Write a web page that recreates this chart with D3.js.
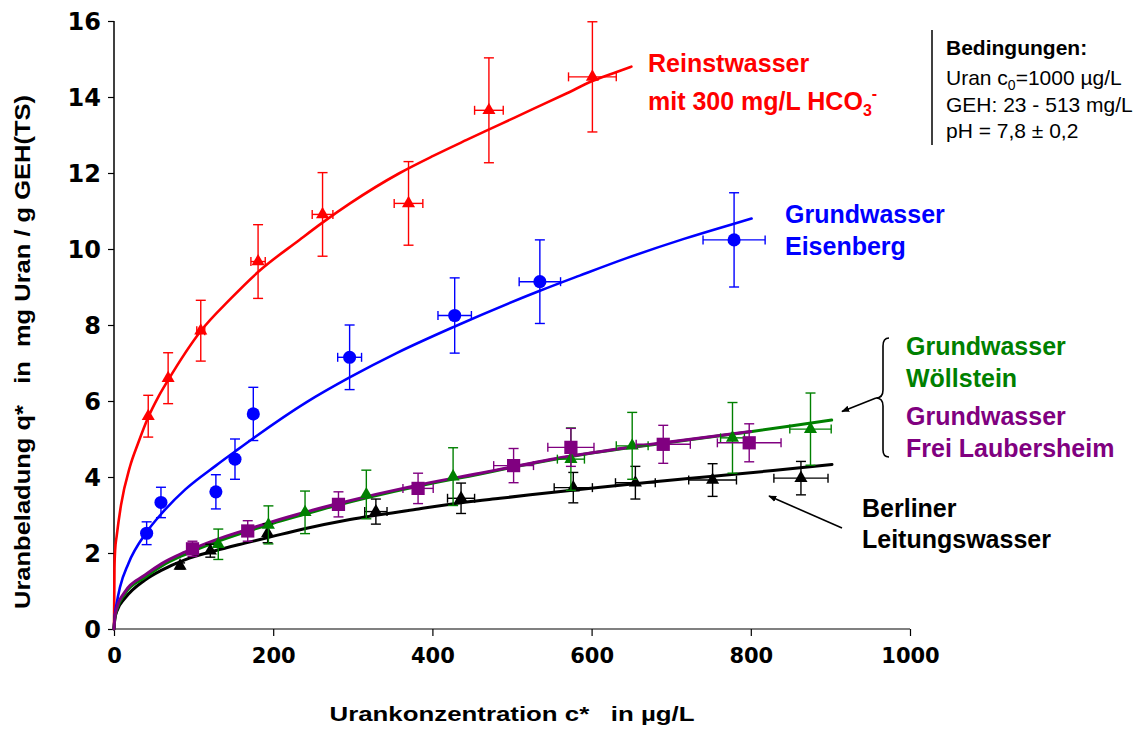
<!DOCTYPE html>
<html>
<head>
<meta charset="utf-8">
<script src="https://cdn.jsdelivr.net/npm/d3@7/dist/d3.min.js"></script>
<style>
  html, body { margin: 0; padding: 0; background: #fff; }
  svg { display: block; }
  text { white-space: pre; }
</style>
</head>
<body>
<svg id="chart" width="1139" height="729"></svg>
<script>
// Axis ticks
const xTicks = [0, 200, 400, 600, 800, 1000];
const yTicks = [0, 2, 4, 6, 8, 10, 12, 14, 16];

// Reinstwasser mit 300 mg/L HCO3- : measurements (x, y, error in y, error in x)
const reinX    = [43, 68, 109, 181, 262, 370, 471, 601];
const reinY    = [5.6, 6.6, 7.85, 9.67, 10.91, 11.2, 13.65, 14.53];
const reinYErr = [0.55, 0.67, 0.8, 0.97, 1.1, 1.1, 1.38, 1.45];
const reinXErr = [0, 0, 5, 9, 13, 18, 18, 30];
// Reinstwasser: isotherm fit
const reinFitX = [0, 0.6, 1.5, 3.4, 8.8, 20, 30.5, 42.3, 55.7, 68, 109.3, 146, 181.3, 233.7, 261, 296.5, 359, 401, 443, 485, 526, 569, 601, 631.5, 650];
const reinFitY = [0, 1.6, 2.1, 2.45, 3.26, 4.27, 4.9, 5.54, 6.11, 6.55, 7.85, 8.68, 9.4, 10.25, 10.68, 11.2, 12.0, 12.45, 12.87, 13.28, 13.68, 14.1, 14.42, 14.66, 14.8];

// Grundwasser Eisenberg
const eisX    = [41, 59, 128, 152, 175, 296, 428, 535, 779];
const eisY    = [2.52, 3.33, 3.61, 4.47, 5.66, 7.15, 8.25, 9.14, 10.24];
const eisYErr = [0.3, 0.4, 0.45, 0.53, 0.7, 0.85, 0.99, 1.1, 1.24];
const eisXErr = [0, 0, 0, 5, 5, 15, 21, 26, 39];
const eisFitX = [0, 1, 3.4, 7.5, 18, 41, 59, 90, 128, 152, 175, 242, 296, 355, 428, 535, 585, 644, 715, 778, 801];
const eisFitY = [0, 0.35, 0.68, 1.1, 1.72, 2.55, 3.02, 3.68, 4.3, 4.67, 5.02, 5.97, 6.62, 7.26, 7.96, 8.9, 9.3, 9.76, 10.26, 10.66, 10.8];

// Grundwasser Wöllstein
const woelX    = [131, 194, 240, 317, 426, 574, 651, 777, 875];
const woelY    = [2.23, 2.74, 3.07, 3.54, 4.01, 4.47, 4.82, 5.03, 5.26];
const woelYErr = [0.4, 0.5, 0.56, 0.64, 0.76, 0.82, 0.88, 0.93, 0.95];
const woelXErr = [0, 0, 0, 0, 0, 17, 20, 15, 26];
const woelFitX = [0, 1, 3.4, 13.8, 39, 60, 89, 127, 164.6, 198, 237.8, 275.5, 380, 460, 501.7, 573.7, 690, 795, 850, 901.6];
const woelFitY = [0, 0.27, 0.5, 0.93, 1.36, 1.66, 1.96, 2.28, 2.55, 2.77, 3.01, 3.23, 3.75, 4.08, 4.26, 4.54, 4.89, 5.18, 5.34, 5.5];

// Grundwasser Frei Laubersheim
const freiX    = [98.6, 168, 282, 382, 502, 574, 690, 798];
const freiY    = [2.11, 2.58, 3.28, 3.7, 4.3, 4.78, 4.86, 4.9];
const freiYErr = [0.2, 0.27, 0.33, 0.4, 0.45, 0.5, 0.5, 0.5];
const freiXErr = [0, 0, 0, 19, 25, 29, 34, 40];
const freiFitX = [0, 1, 3.4, 13.8, 39, 60, 89, 127, 164.6, 198, 237.8, 275.5, 380, 460, 501.7, 573.7, 690, 800];
const freiFitY = [0, 0.3, 0.54, 0.98, 1.42, 1.72, 2.02, 2.34, 2.6, 2.82, 3.06, 3.27, 3.78, 4.1, 4.27, 4.55, 4.9, 5.2];

// Berliner Leitungswasser
const berlX    = [83, 121, 193, 329, 436, 577, 655, 752, 863];
const berlY    = [1.66, 2.06, 2.52, 3.09, 3.44, 3.72, 3.85, 3.92, 3.97];
const berlYErr = [0.08, 0.17, 0.25, 0.33, 0.4, 0.4, 0.43, 0.43, 0.44];
const berlXErr = [0, 0, 0, 14, 17, 24, 25, 30, 34];
const berlFitX = [0, 1, 3.4, 13.8, 39, 60, 89, 127, 164.6, 198, 237.8, 296.5, 380, 443, 485, 523, 611, 682, 753, 828, 902];
const berlFitY = [0, 0.26, 0.46, 0.81, 1.29, 1.55, 1.82, 2.06, 2.26, 2.43, 2.63, 2.88, 3.15, 3.34, 3.44, 3.53, 3.73, 3.88, 4.02, 4.17, 4.33];

const svg = d3.select("#chart");
const x = d3.scaleLinear().domain([0, 1000]).range([114, 910]);
const y = d3.scaleLinear().domain([0, 16]).range([629, 21]);

const series = [
  { color: "#ff0000", sym: d3.symbolTriangle, size: 74, xs: reinX, ys: reinY, ey: reinYErr, ex: reinXErr, fx: reinFitX, fy: reinFitY, lw: 2.6 },
  { color: "#0000ff", sym: d3.symbolCircle,   size: 135, xs: eisX, ys: eisY, ey: eisYErr, ex: eisXErr, fx: eisFitX, fy: eisFitY, lw: 2.6 },
  { color: "#000000", sym: d3.symbolTriangle, size: 74, xs: berlX, ys: berlY, ey: berlYErr, ex: berlXErr, fx: berlFitX, fy: berlFitY, lw: 3 },
  { color: "#008000", sym: d3.symbolTriangle, size: 74, xs: woelX, ys: woelY, ey: woelYErr, ex: woelXErr, fx: woelFitX, fy: woelFitY, lw: 3 },
  { color: "#800080", sym: d3.symbolSquare,   size: 175, xs: freiX, ys: freiY, ey: freiYErr, ex: freiXErr, fx: freiFitX, fy: freiFitY, lw: 3 }
];

// Axes
const yAxis = d3.axisLeft(y).tickValues(yTicks).tickSize(6).tickFormat(d3.format("d"));
const gy = svg.append("g").attr("transform", "translate(114,0)").call(yAxis);
gy.select(".domain").attr("stroke", "#000").attr("stroke-width", 1.5).attr("d", "M0,21V629");
gy.selectAll(".tick line").attr("stroke", "#000").attr("stroke-width", 1.2);
gy.selectAll(".tick text")
  .attr("x", -13).attr("dy", "0.36em")
  .attr("font-family", "DejaVu Sans").attr("font-weight", "bold").attr("font-size", 24).attr("fill", "#000");

const xAxis = d3.axisBottom(x).tickValues(xTicks).tickSize(7).tickFormat(d3.format("d"));
const gx = svg.append("g").attr("transform", "translate(0,629)").call(xAxis);
gx.select(".domain").attr("stroke", "#808080").attr("stroke-width", 2).attr("d", "M114,0H910");
gx.selectAll(".tick line").attr("stroke", "#000").attr("stroke-width", 1.2);
gx.selectAll(".tick text")
  .attr("y", 34).attr("dy", "0")
  .attr("font-family", "DejaVu Sans").attr("font-weight", "bold").attr("font-size", 21).attr("fill", "#000");

// Axis titles
const font = "Liberation Sans, Arial, sans-serif";
svg.append("text")
  .attr("x", 512).attr("y", 721)
  .attr("text-anchor", "middle")
  .attr("font-family", font).attr("font-weight", "bold").attr("font-size", 21)
  .attr("textLength", 365).attr("lengthAdjust", "spacingAndGlyphs")
  .text("Urankonzentration c*   in µg/L");

svg.append("text")
  .attr("transform", "translate(30,352) rotate(-90)")
  .attr("text-anchor", "middle")
  .attr("font-family", font).attr("font-weight", "bold").attr("font-size", 22)
  .attr("textLength", 514).attr("lengthAdjust", "spacingAndGlyphs")
  .text("Uranbeladung q*   in  mg Uran / g GEH(TS)");

// Fit curves
const line = d3.line().x(d => x(d[0])).y(d => y(d[1])).curve(d3.curveMonotoneX);
const curves = svg.append("g");
series.forEach(s => {
  curves.append("path")
    .datum(s.fx.map((v, i) => [v, s.fy[i]]))
    .attr("d", line)
    .attr("fill", "none")
    .attr("stroke", s.color)
    .attr("stroke-width", s.lw)
    .attr("stroke-linejoin", "round")
    .attr("stroke-linecap", "round");
});

// Error bars and markers
series.forEach(s => {
  const pts = s.xs.map((v, i) => ({ x: v, y: s.ys[i], ey: s.ey[i], ex: s.ex[i] }));
  const g = svg.append("g").attr("stroke", s.color).attr("stroke-width", 1.4).attr("fill", "none");
  const capV = 5, capH = 4.5;
  pts.forEach(p => {
    const px = x(p.x), py = y(p.y);
    if (p.ey > 0) {
      const y1 = y(p.y + p.ey), y2 = y(p.y - p.ey);
      g.append("line").attr("x1", px).attr("x2", px).attr("y1", y1).attr("y2", y2);
      g.append("line").attr("x1", px - capV).attr("x2", px + capV).attr("y1", y1).attr("y2", y1);
      g.append("line").attr("x1", px - capV).attr("x2", px + capV).attr("y1", y2).attr("y2", y2);
    }
    if (p.ex > 0) {
      const x1 = x(p.x - p.ex), x2 = x(p.x + p.ex);
      g.append("line").attr("x1", x1).attr("x2", x2).attr("y1", py).attr("y2", py);
      g.append("line").attr("x1", x1).attr("x2", x1).attr("y1", py - capH).attr("y2", py + capH);
      g.append("line").attr("x1", x2).attr("x2", x2).attr("y1", py - capH).attr("y2", py + capH);
    }
  });
  svg.append("g").selectAll("path")
    .data(pts)
    .join("path")
    .attr("transform", d => `translate(${x(d.x)},${y(d.y)})`)
    .attr("d", d3.symbol().type(s.sym).size(s.size))
    .attr("fill", s.color);
});

// Series labels
function label(xp, yp, txt, color) {
  return svg.append("text").attr("x", xp).attr("y", yp)
    .attr("font-family", font).attr("font-weight", "bold").attr("font-size", 25)
    .attr("fill", color).text(txt);
}
label(648, 72, "Reinstwasser", "#ff0000");
const hco = label(648, 110, "mit 300 mg/L HCO", "#ff0000");
hco.append("tspan").attr("font-size", 16).attr("dy", 6).text("3");
hco.append("tspan").attr("font-size", 16).attr("dy", -17).text("-");

label(785, 223, "Grundwasser", "#0000ff");
label(785, 255, "Eisenberg", "#0000ff");
label(906, 355, "Grundwasser", "#008000");
label(906, 387, "Wöllstein", "#008000");
label(906, 425, "Grundwasser", "#800080");
label(906, 457, "Frei Laubersheim", "#800080");
label(862, 517, "Berliner", "#000000");
label(862, 548, "Leitungswasser", "#000000");

// Brace grouping Wöllstein and Frei Laubersheim
svg.append("path")
  .attr("d", "M889,338 Q883,338 883,346 L883,390 Q883,398 876,398 Q883,398 883,406 L883,450 Q883,457 889,457")
  .attr("fill", "none").attr("stroke", "#000").attr("stroke-width", 1.6);

// Arrows
const defs = svg.append("defs");
defs.append("marker")
  .attr("id", "arrowHead").attr("viewBox", "0 0 10 10")
  .attr("refX", 9).attr("refY", 5)
  .attr("markerWidth", 8).attr("markerHeight", 8)
  .attr("markerUnits", "userSpaceOnUse")
  .attr("orient", "auto")
  .append("path").attr("d", "M0,1 L10,5 L0,9 Z").attr("fill", "#000");

svg.append("line")
  .attr("x1", 876).attr("y1", 398).attr("x2", 842).attr("y2", 411.5)
  .attr("stroke", "#000").attr("stroke-width", 1.6).attr("marker-end", "url(#arrowHead)");
svg.append("line")
  .attr("x1", 842).attr("y1", 528).attr("x2", 769).attr("y2", 496)
  .attr("stroke", "#000").attr("stroke-width", 1.6).attr("marker-end", "url(#arrowHead)");

// Conditions note
svg.append("line").attr("x1", 932).attr("x2", 932).attr("y1", 30).attr("y2", 145)
  .attr("stroke", "#000").attr("stroke-width", 1.5);
svg.append("text").attr("x", 946).attr("y", 55)
  .attr("font-family", font).attr("font-weight", "bold").attr("font-size", 21)
  .text("Bedingungen:");
const c0 = svg.append("text").attr("x", 946).attr("y", 85)
  .attr("font-family", font).attr("font-size", 21).text("Uran c");
c0.append("tspan").attr("font-size", 14).attr("dy", 5).text("0");
c0.append("tspan").attr("dy", -5).text("=1000 µg/L");
svg.append("text").attr("x", 946).attr("y", 112)
  .attr("font-family", font).attr("font-size", 21).text("GEH: 23 - 513 mg/L");
svg.append("text").attr("x", 946).attr("y", 138)
  .attr("font-family", font).attr("font-size", 21).text("pH = 7,8 ± 0,2");
</script>
</body>
</html>
